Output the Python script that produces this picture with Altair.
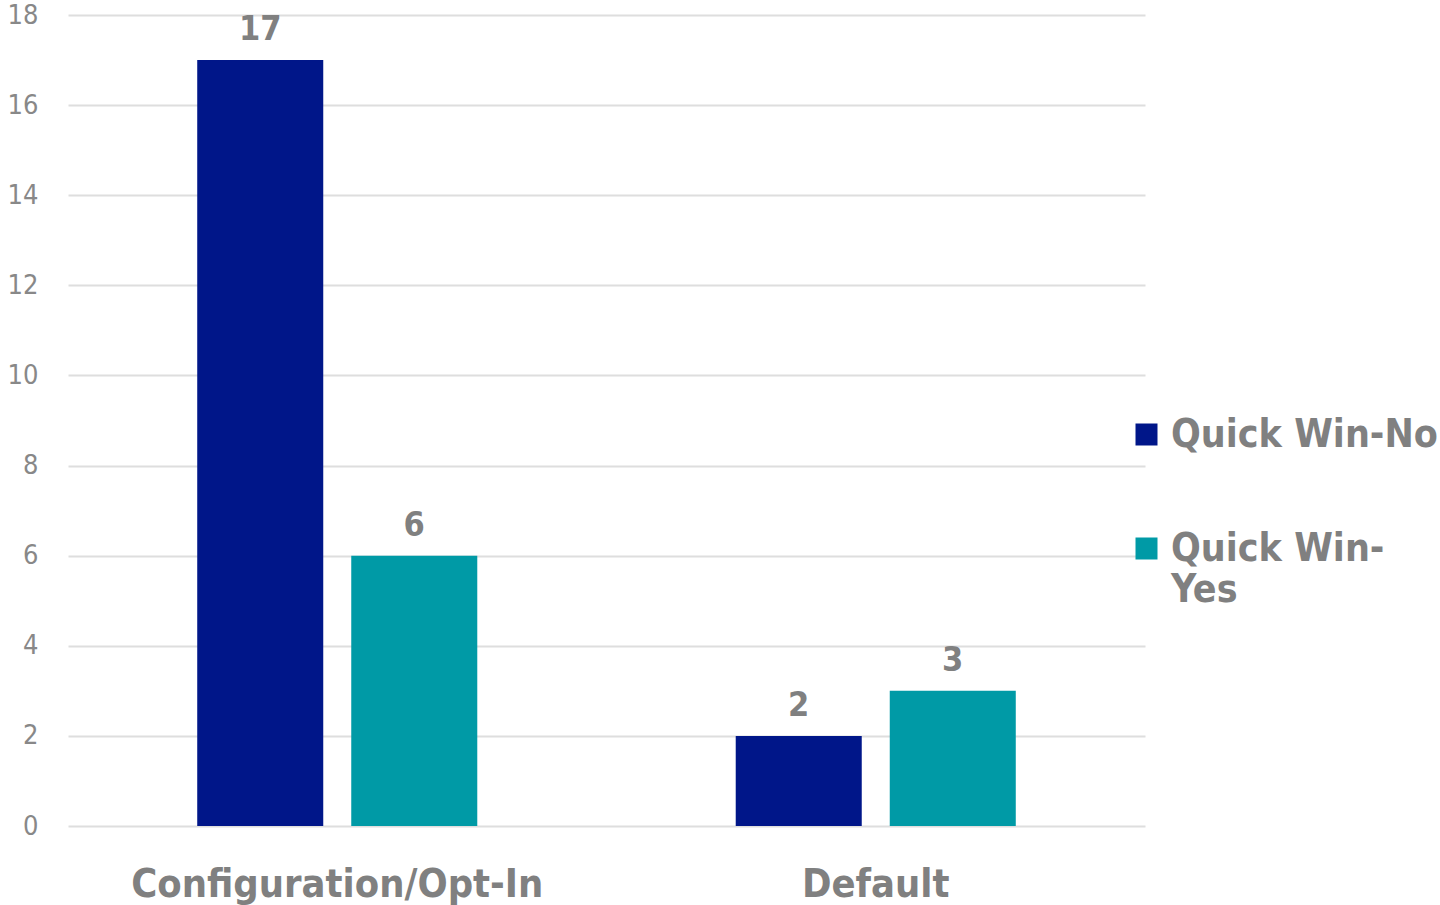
import altair as alt
import pandas as pd

categories = ["Configuration/Opt-In", "Configuration/Opt-In", "Default", "Default"]
series = ["Quick Win-No", "Quick Win-Yes", "Quick Win-No", "Quick Win-Yes"]
values = [17, 6, 2, 3]

series_order = ["Quick Win-No", "Quick Win-Yes"]
colors = ["#001689", "#009AA6"]
y_ticks = [0, 2, 4, 6, 8, 10, 12, 14, 16, 18]

df = pd.DataFrame({"category": categories, "series": series, "value": values})

FONT = "DejaVu Sans Condensed"
GRAY = "#808080"

base = alt.Chart(df).encode(
    x=alt.X("category:N", title=None,
            scale=alt.Scale(paddingInner=0, paddingOuter=0),
            axis=alt.Axis(labelAngle=0, labelFontSize=39.5, labelFont=FONT,
                          labelFontWeight="bold", labelColor=GRAY, labelLimit=700,
                          labelPadding=39, domain=False, ticks=False, grid=False)),
    xOffset=alt.XOffset("series:N", sort=series_order,
                        scale=alt.Scale(paddingInner=0.1818, paddingOuter=0.839)),
)

bars = base.mark_bar().encode(
    y=alt.Y("value:Q", title=None,
            scale=alt.Scale(domain=[0, 18], nice=False),
            axis=alt.Axis(values=y_ticks, labelFontSize=27, labelFont=FONT,
                          labelColor="#888888", labelPadding=30, domain=False,
                          ticks=False, gridColor="#dedede", gridWidth=2)),
    color=alt.Color("series:N", sort=series_order,
                    scale=alt.Scale(domain=series_order, range=colors),
                    legend=alt.Legend(title=None, orient="none", legendX=1059, legendY=400,
                                      symbolType="square", symbolSize=484,
                                      symbolStrokeWidth=0,
                                      labelFontSize=39, labelFont=FONT,
                                      labelFontWeight="bold", labelColor=GRAY,
                                      labelOffset=5, rowPadding=74, padding=0,
                                      labelLimit=400,
                                      labelExpr="datum.label == 'Quick Win-Yes' ? ['Quick Win-', 'Yes'] : datum.label")),
)

labels = base.mark_text(dy=-30, fontSize=34, font=FONT, fontWeight="bold",
                        color=GRAY).encode(
    y=alt.Y("value:Q"),
    text=alt.Text("value:Q"),
)

chart = alt.layer(bars, labels).properties(
    width=1077, height=811,
    background="white",
    autosize=alt.AutoSizeParams(type="none"),
    padding={"left": 68, "top": 15, "right": 295, "bottom": 79},
).configure_view(strokeWidth=0)

chart.save("out.html", embed_options={"renderer": "svg", "actions": False})
